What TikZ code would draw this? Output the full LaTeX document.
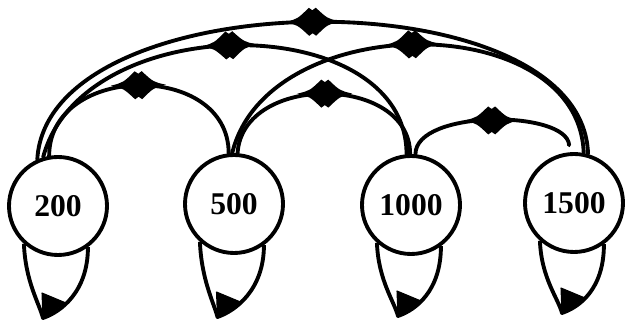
\documentclass[tikz,border=0pt]{standalone}
\usepackage{fontspec}
\setmainfont{Liberation Serif}
\usetikzlibrary{arrows.meta,decorations.markings,calc}

\begin{document}
\begin{tikzpicture}[>=Latex, every node/.style={font=\bfseries\fontsize{18}{20}\selectfont}]
    \tikzstyle{state}=[draw, circle, line width=2.2pt, minimum size=1.96cm, inner sep=0pt]
    \tikzstyle{link}=[line width=2.2pt, line cap=round, postaction={decorate}, decoration={markings, mark=at position 0.5 with {\fill (-0.55,0) .. controls (-0.3,0.06) .. (-0.07,0.28) -- (0,0.23) -- (0.07,0.28) .. controls (0.3,0.06) .. (0.55,0) .. controls (0.3,-0.06) .. (0.07,-0.28) -- (0,-0.23) -- (-0.07,-0.28) .. controls (-0.3,-0.06) .. cycle;}}]
    \tikzstyle{selfloop}=[line width=2.2pt, line join=round]
    \tikzstyle{loophead}=[line width=0.6pt, line join=round]

    \useasboundingbox (0,0) rectangle (12.5,6.5);

    \node[state] (n200) at (1.16,2.38) {200};
    \node[state] (n500) at (4.68,2.42) {500};
    \node[state] (n1000) at (8.22,2.40) {1000};
    \node[state] (n1500) at (11.48,2.44) {1500};

    % arcs over the top
    \draw[link] (n200.114) .. controls +(0.2,3.6) and +(-0.1,3.6) .. (n1500.74);
    \draw[link] (n200.107) .. controls +(0.8,3.0) and +(0,2.9) .. (n1000.95);
    \draw[link] (n500.92) .. controls +(0.7,2.9) and +(-0.1,2.9) .. (n1500.79);
    \draw[link] (n200.100) .. controls +(0,1.85) and +(0,1.85) .. (n500.96);
    \draw[link] (n500.86) .. controls +(0.1,1.6) and +(0,1.6) .. (n1000.91);
    \draw[link, shorten >=4pt] (n1000.85) .. controls +(0,0.9) and +(-0.05,0.85) .. (n1500.95);

    % self loops
    \coordinate (b200) at ($(n200)+(-0.3,-2.24)$);
    \coordinate (b500) at ($(n500)+(-0.33,-2.26)$);
    \coordinate (b1000) at ($(n1000)+(-0.26,-2.22)$);
    \coordinate (b1500) at ($(n1500)+(-0.24,-2.2)$);
    \draw[selfloop] (n200.228) .. controls +(0.03,-0.75) and +(-0.08,0.3) .. (b200) .. controls +(0.35,0.12) and +(0,-0.9) .. (n200.306);
    \draw[selfloop] (n500.228) .. controls +(0.03,-0.75) and +(-0.08,0.3) .. (b500) .. controls +(0.35,0.12) and +(0,-0.9) .. (n500.306);
    \draw[selfloop] (n1000.228) .. controls +(0.03,-0.75) and +(-0.08,0.3) .. (b1000) .. controls +(0.35,0.12) and +(0,-0.9) .. (n1000.306);
    \draw[selfloop] (n1500.228) .. controls +(0.03,-0.75) and +(-0.08,0.3) .. (b1500) .. controls +(0.35,0.12) and +(0,-0.9) .. (n1500.306);
    \filldraw[loophead] (b200) -- ++(-0.02,0.5) -- ++(0.48,-0.2) -- cycle;
    \filldraw[loophead] (b500) -- ++(-0.02,0.5) -- ++(0.48,-0.2) -- cycle;
    \filldraw[loophead] (b1000) -- ++(-0.02,0.5) -- ++(0.48,-0.2) -- cycle;
    \filldraw[loophead] (b1500) -- ++(-0.02,0.5) -- ++(0.48,-0.2) -- cycle;
\end{tikzpicture}
\end{document}
